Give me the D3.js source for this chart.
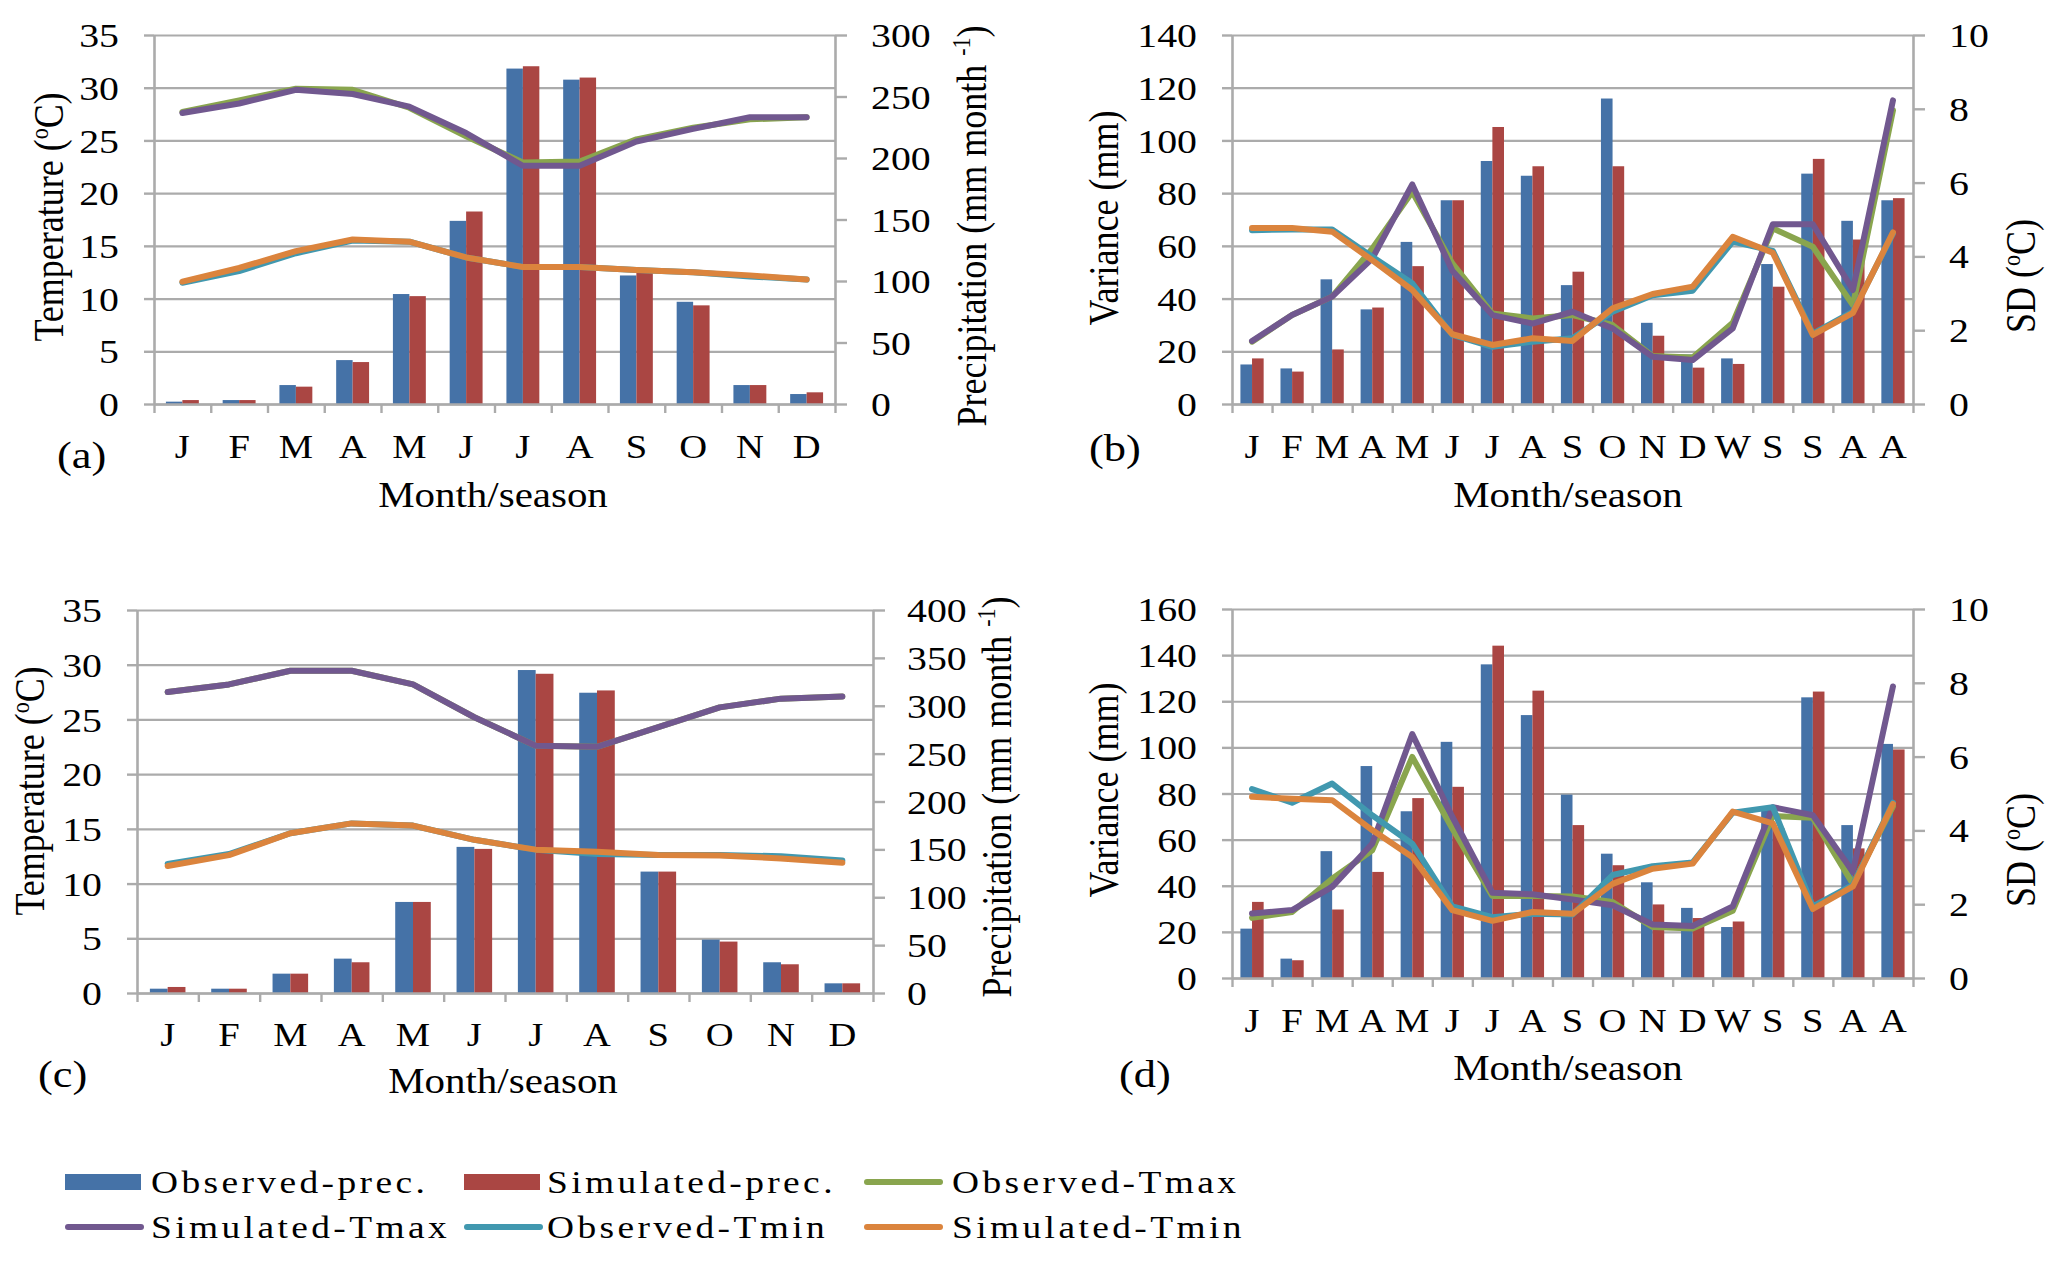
<!DOCTYPE html>
<html>
<head>
<meta charset="utf-8">
<script src="https://cdn.jsdelivr.net/npm/d3@7"></script>
<style>
body { margin: 0; background: #fff; }
text { font-family: "Liberation Serif", "Times New Roman", serif; fill: #000; }
</style>
</head>
<body>
<svg id="fig" width="2067" height="1263"></svg>
<script>
// category labels
const months = ["J","F","M","A","M","J","J","A","S","O","N","D"];
const monthsSeasons = ["J","F","M","A","M","J","J","A","S","O","N","D","W","S","S","A","A"];

// tick labels
const tempTicks = [0,5,10,15,20,25,30,35];
const precTicksA = [0,50,100,150,200,250,300];
const precTicksC = [0,50,100,150,200,250,300,350,400];
const varTicksB = [0,20,40,60,80,100,120,140];
const varTicksD = [0,20,40,60,80,100,120,140,160];
const sdTicks = [0,2,4,6,8,10];

// (a) precipitation (mm/month) and temperature (C)
const aObsPrec = [1.9,3.2,15.4,35.7,89.4,148.9,272.7,263.7,104.5,83.1,15.4,8.1];
const aSimPrec = [3.2,3.2,14.1,34.1,87.7,156.5,274.6,265.4,106.7,80.2,15.4,9.5];
const aObsTmax = [27.7,28.8,29.9,29.8,28.1,25.4,22.9,23.0,25.1,26.2,27.0,27.2];
const aSimTmax = [27.6,28.5,29.8,29.4,28.2,25.7,22.6,22.6,24.9,26.1,27.2,27.2];
const aObsTmin = [11.5,12.6,14.3,15.5,15.4,13.9,13.0,13.0,12.7,12.5,12.1,11.8];
const aSimTmin = [11.6,12.9,14.5,15.6,15.4,13.9,13.0,13.0,12.7,12.5,12.2,11.8];

// (b) variance (mm) and SD (C)
const bObsPrec = [15.0,13.5,47.3,35.9,61.5,77.3,92.2,86.6,45.1,115.9,30.8,18.8,17.3,53.1,87.4,69.5,77.3];
const bSimPrec = [17.3,12.3,20.7,36.6,52.3,77.3,105.1,90.2,50.2,90.2,25.9,13.8,15.2,44.5,93.0,62.4,78.1];
const bObsTmax = [1.69,2.41,2.91,4.21,5.75,3.81,2.45,2.32,2.41,2.14,1.30,1.26,2.20,4.76,4.26,2.68,7.96];
const bSimTmax = [1.71,2.41,2.91,3.94,5.95,3.61,2.41,2.18,2.50,2.05,1.28,1.19,2.05,4.87,4.87,3.09,8.23];
const bObsTmin = [4.71,4.73,4.73,3.99,3.27,1.87,1.55,1.69,1.78,2.50,2.95,3.07,4.40,4.15,1.91,2.50,4.62];
const bSimTmin = [4.77,4.77,4.67,3.90,3.09,1.89,1.60,1.78,1.71,2.59,2.98,3.18,4.53,4.10,1.87,2.47,4.65];

// (c) precipitation (mm/month) and temperature (C)
const cObsPrec = [4.5,4.5,20.2,35.9,95.1,152.6,337.3,313.6,126.8,55.7,32.1,10.1];
const cSimPrec = [6.3,4.5,20.2,32.1,95.1,150.5,333.4,316.0,126.8,53.7,30.0,10.1];
const cObsTmax = [27.5,28.2,29.45,29.45,28.2,25.2,22.6,22.5,24.3,26.1,26.9,27.1];
const cSimTmax = [27.5,28.2,29.45,29.45,28.2,25.2,22.6,22.5,24.3,26.1,26.9,27.1];
const cObsTmin = [11.8,12.7,14.6,15.5,15.3,14.0,13.1,12.7,12.6,12.6,12.5,12.1];
const cSimTmin = [11.6,12.6,14.6,15.5,15.3,14.0,13.1,12.9,12.6,12.56,12.3,11.9];

// (d) variance (mm) and SD (C)
const dObsPrec = [21.4,8.4,55.0,91.9,72.3,102.4,136.0,114.0,79.5,53.9,41.5,30.4,22.1,74.0,121.7,66.3,101.5];
const dSimPrec = [33.0,7.7,29.7,46.0,78.0,82.9,144.1,124.6,66.3,48.9,31.9,26.0,24.5,65.0,124.2,56.2,99.1];
const dObsTmax = [1.63,1.79,2.69,3.46,5.99,4.05,2.22,2.22,2.21,2.06,1.38,1.34,1.82,4.39,4.34,2.55,4.65];
const dSimTmax = [1.75,1.84,2.47,3.64,6.61,4.37,2.31,2.27,2.13,1.97,1.45,1.41,1.94,4.63,4.41,2.88,7.90];
const dObsTmin = [5.12,4.75,5.27,4.41,3.64,1.94,1.65,1.74,1.72,2.79,3.03,3.13,4.48,4.63,1.94,2.52,4.75];
const dSimTmin = [4.91,4.86,4.82,4.01,3.28,1.84,1.55,1.79,1.74,2.55,2.96,3.10,4.51,4.19,1.87,2.48,4.72];

const legendNames = ["Observed-prec.","Simulated-prec.","Observed-Tmax","Simulated-Tmax","Observed-Tmin","Simulated-Tmin"];
const colors = {obsP:"#4572A7", simP:"#AA4643", obsX:"#89A54E", simX:"#71588F", obsN:"#4198AF", simN:"#DB843D"};
const gridColor = "#ABABAB";
const SX = 1.17; // the picture's text is a bit wider than normal

const svg = d3.select("#fig");
svg.append("rect").attr("width",2067).attr("height",1263).attr("fill","#fff");

function stretchText(g, x, y, size, anchor) {
  return g.append("text")
    .attr("transform", `translate(${x},${y}) scale(${SX},1)`)
    .attr("font-size", size)
    .attr("text-anchor", anchor || "start");
}

function vertTitle(g, x, y, kind) {
  let t = g.append("text")
    .attr("transform", `translate(${x},${y}) scale(${SX},1) rotate(-90)`)
    .attr("font-size", 36)
    .attr("text-anchor", "middle");
  if (kind == "temp") {
    t.append("tspan").text("Temperature (");
    t.append("tspan").attr("font-size", 22).attr("dy", -13).text("o");
    t.append("tspan").attr("dy", 13).text("C)");
  } else if (kind == "prec") {
    t.append("tspan").text("Precipitation (mm month ");
    t.append("tspan").attr("font-size", 22).attr("dy", -14).text("-1");
    t.append("tspan").attr("dy", 14).text(")");
  } else if (kind == "var") {
    t.text("Variance (mm)");
  } else {
    t.append("tspan").text("SD (");
    t.append("tspan").attr("font-size", 22).attr("dy", -13).text("o");
    t.append("tspan").attr("dy", 13).text("C)");
  }
}

const panels = [
  {tag:"(a)", x0:154, x1:835, y0:35, y1:404, cats:months,
   leftTicks:tempTicks, rightTicks:precTicksA, barsRight:true,
   obsP:aObsPrec, simP:aSimPrec, obsX:aObsTmax, simX:aSimTmax, obsN:aObsTmin, simN:aSimTmin,
   leftLab:35, rightLab:36, catBase:458, tagX:57, tagY:468, titleX:493, titleY:507,
   yT:[63,217,"temp"], y2T:[986,226,"prec"]},
  {tag:"(b)", x0:1232, x1:1913, y0:35, y1:404, cats:monthsSeasons,
   leftTicks:varTicksB, rightTicks:sdTicks, barsRight:false,
   obsP:bObsPrec, simP:bSimPrec, obsX:bObsTmax, simX:bSimTmax, obsN:bObsTmin, simN:bSimTmin,
   leftLab:35, rightLab:36, catBase:458, tagX:1089, tagY:461, titleX:1568, titleY:507,
   yT:[1118,218,"var"], y2T:[2035,276,"sd"]},
  {tag:"(c)", x0:137, x1:873, y0:610, y1:993, cats:months,
   leftTicks:tempTicks, rightTicks:precTicksC, barsRight:true,
   obsP:cObsPrec, simP:cSimPrec, obsX:cObsTmax, simX:cSimTmax, obsN:cObsTmin, simN:cSimTmin,
   leftLab:35, rightLab:34, catBase:1046, tagX:38, tagY:1087, titleX:503, titleY:1093,
   yT:[44,791,"temp"], y2T:[1011,797,"prec"]},
  {tag:"(d)", x0:1232, x1:1913, y0:609, y1:978, cats:monthsSeasons,
   leftTicks:varTicksD, rightTicks:sdTicks, barsRight:false,
   obsP:dObsPrec, simP:dSimPrec, obsX:dObsTmax, simX:dSimTmax, obsN:dObsTmin, simN:dSimTmin,
   leftLab:35, rightLab:36, catBase:1032, tagX:1119, tagY:1087, titleX:1568, titleY:1080,
   yT:[1118,790,"var"], y2T:[2035,850,"sd"]}
];

panels.forEach(function(p) {
  let n = p.cats.length;
  let g = svg.append("g");

  let xBand = d3.scaleBand().domain(d3.range(n)).range([p.x0, p.x1]).padding(0);
  let xEdge = d3.scaleLinear().domain([0, n]).range([p.x0, p.x1]);
  let yLeft = d3.scaleLinear().domain([0, d3.max(p.leftTicks)]).range([p.y1, p.y0]);
  let yRight = d3.scaleLinear().domain([0, d3.max(p.rightTicks)]).range([p.y1, p.y0]);
  let yBars = p.barsRight ? yRight : yLeft;
  let yLines = p.barsRight ? yLeft : yRight;

  // gridlines
  g.append("g")
    .attr("transform", `translate(${p.x0},0)`)
    .call(d3.axisLeft(yLeft).tickValues(p.leftTicks).tickSize(-(p.x1 - p.x0)).tickFormat(""))
    .call(s => s.select(".domain").remove())
    .selectAll("line").attr("stroke", gridColor).attr("stroke-width", 2.2);

  // bars
  let bw = xBand.step() * 0.29;
  g.append("g").selectAll("rect.obs")
    .data(p.obsP).enter().append("rect")
    .attr("x", (d, i) => xBand(i) + xBand.bandwidth() / 2 - bw)
    .attr("y", d => yBars(d))
    .attr("width", bw)
    .attr("height", d => yBars(0) - yBars(d))
    .attr("fill", colors.obsP);
  g.append("g").selectAll("rect.sim")
    .data(p.simP).enter().append("rect")
    .attr("x", (d, i) => xBand(i) + xBand.bandwidth() / 2)
    .attr("y", d => yBars(d))
    .attr("width", bw)
    .attr("height", d => yBars(0) - yBars(d))
    .attr("fill", colors.simP);

  // axes
  let left = g.append("g")
    .attr("transform", `translate(${p.x0},0)`)
    .call(d3.axisLeft(yLeft).tickValues(p.leftTicks).tickSize(10).tickSizeOuter(0));
  let right = g.append("g")
    .attr("transform", `translate(${p.x1},0)`)
    .call(d3.axisRight(yRight).tickValues(p.rightTicks).tickSize(12).tickSizeOuter(0));
  let bottom = g.append("g")
    .attr("transform", `translate(0,${p.y1})`)
    .call(d3.axisBottom(xEdge).tickValues(d3.range(n + 1)).tickSize(9).tickSizeOuter(0).tickFormat(""));
  let catAxis = g.append("g")
    .attr("transform", `translate(0,${p.y1})`)
    .call(d3.axisBottom(xBand).tickSize(0).tickFormat(i => p.cats[i]));
  catAxis.select(".domain").remove();

  [left, right, bottom].forEach(function(a) {
    a.select(".domain").attr("stroke", gridColor).attr("stroke-width", 2.6);
    a.selectAll("line").attr("stroke", gridColor).attr("stroke-width", 2.4);
  });
  left.selectAll("text")
    .attr("x", -p.leftLab / SX).attr("dy", "0.34em")
    .attr("transform", `scale(${SX},1)`)
    .attr("font-size", 34).attr("font-family", null);
  right.selectAll("text")
    .attr("x", p.rightLab / SX).attr("dy", "0.34em")
    .attr("transform", `scale(${SX},1)`)
    .attr("font-size", 34).attr("font-family", null);
  catAxis.selectAll("text")
    .attr("y", p.catBase - p.y1).attr("dy", 0)
    .attr("transform", `scale(${SX},1)`)
    .attr("font-size", 33).attr("font-family", null);

  // lines
  let line = d3.line()
    .x((d, i) => xBand(i) + xBand.bandwidth() / 2)
    .y(d => yLines(d));
  [["obsX", colors.obsX], ["simX", colors.simX], ["obsN", colors.obsN], ["simN", colors.simN]].forEach(function(s) {
    g.append("path")
      .datum(p[s[0]])
      .attr("d", line)
      .attr("fill", "none")
      .attr("stroke", s[1])
      .attr("stroke-width", 6)
      .attr("stroke-linejoin", "round")
      .attr("stroke-linecap", "round");
  });

  // texts
  stretchText(g, p.tagX, p.tagY, 38).text(p.tag);
  stretchText(g, p.titleX, p.titleY, 35, "middle").text("Month/season");
  vertTitle(g, p.yT[0], p.yT[1], p.yT[2]);
  vertTitle(g, p.y2T[0], p.y2T[1], p.y2T[2]);
});

// legend
const legendCols = [65, 464, 864];
const legendTextX = [151, 547, 952];
const legendRows = [1182, 1227];
const legendColors = [colors.obsP, colors.simP, colors.obsX, colors.simX, colors.obsN, colors.simN];
let lg = svg.append("g");
legendNames.forEach(function(name, i) {
  let col = i % 3, row = Math.floor(i / 3);
  let cy = legendRows[row];
  if (i < 2) {
    lg.append("rect")
      .attr("x", legendCols[col]).attr("y", cy - 8)
      .attr("width", 76).attr("height", 16)
      .attr("fill", legendColors[i]);
  } else {
    lg.append("line")
      .attr("x1", legendCols[col] + 3).attr("x2", legendCols[col] + 76)
      .attr("y1", cy).attr("y2", cy)
      .attr("stroke", legendColors[i]).attr("stroke-width", 6)
      .attr("stroke-linecap", "round");
  }
  stretchText(lg, legendTextX[col], cy + 11, 32)
    .attr("letter-spacing", 2.9)
    .text(name);
});
</script>
</body>
</html>
